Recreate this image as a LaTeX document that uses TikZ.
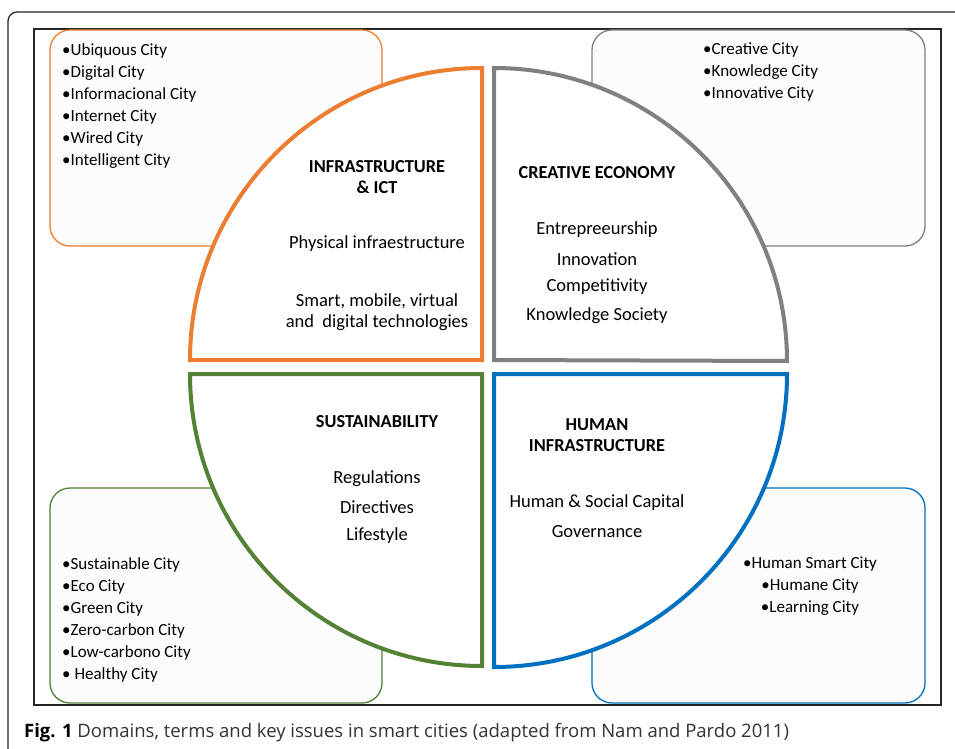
\documentclass[tikz,border=0pt]{standalone}
\usepackage{fontspec}
\setmainfont{Carlito}
\newfontfamily\capfont{Open Sans}
\definecolor{corange}{HTML}{ED7D31}
\definecolor{cgray}{HTML}{808080}
\definecolor{cgreen}{HTML}{548235}
\definecolor{cblue}{HTML}{0070C0}
\definecolor{boxfill}{HTML}{FCFCFC}
\begin{document}
\begin{tikzpicture}[x=1pt,y=-1pt,
  listbox/.style={line width=1.3pt,rounded corners=20pt,fill=boxfill},
  quad/.style={line width=4pt,fill=white,line join=miter},
  listtxt/.style={font=\fontsize{17}{22}\selectfont,align=left,inner sep=0pt},
  clisttxt/.style={font=\fontsize{17}{22}\selectfont,align=center,inner sep=0pt},
  head/.style={font=\fontsize{18.3}{20.5}\selectfont\bfseries,align=center,inner sep=0pt},
  body/.style={font=\fontsize{18.5}{21}\selectfont,align=center,inner sep=0pt}]
\useasboundingbox (0,0) rectangle (955,749);
\fill[white] (0,0) rectangle (955,749);
% frames
\draw[line width=1.3pt,black!85,rounded corners=9pt] (8,12) rectangle (975,770);
\draw[line width=1.3pt,black!85] (34,29) rectangle (941,705);
% list boxes
\draw[listbox,draw=corange] (50,30) rectangle (382,246);
\draw[listbox,draw=cgray] (592,30) rectangle (925,246);
\draw[listbox,draw=cgreen] (50,488) rectangle (382,703);
\draw[listbox,draw=cblue] (592,488) rectangle (925,703);
% quadrants
\draw[quad,draw=corange] (482,360) -- (190,360) arc[start angle=180,end angle=270,radius=292] -- cycle;
\draw[quad,draw=cgray] (494,360) -- (494,68) arc[start angle=270,end angle=360,radius=293] -- cycle;
\draw[quad,draw=cgreen] (482,374) -- (190,374) arc[start angle=180,end angle=90,radius=292] -- cycle;
\draw[quad,draw=cblue] (494,374) -- (787,374) arc[start angle=0,end angle=90,radius=293] -- cycle;
% lists
\node[listtxt,anchor=north west] (l1) at (62,43) {•Ubiquous City\\•Digital City\\•Informacional City\\•Internet City\\•Wired City\\•Intelligent City};
\node[listtxt,anchor=north west] (l2) at (703,43) {•Creative City\\•Knowledge City\\•Innovative City};
\node[listtxt,anchor=north west] (l3) at (62,557) {•Sustainable City\\•Eco City\\•Green City\\•Zero-carbon City\\•Low-carbono City\\• Healthy City};
\node[clisttxt,anchor=north] (l4) at (810,557) {•Human Smart City\\•Humane City\\•Learning City};
% quadrant texts
\node[head] (h1) at (377,177) {INFRASTRUCTURE\\\& ICT};
\node[body] (b1a) at (377,244) {Physical infraestructure};
\node[body] (b1b) at (377,312) {Smart, mobile, virtual\\and\ \ digital technologies};
\node[head] (h2) at (597,173) {CREATIVE ECONOMY};
\node[body] (b2a) at (597,230) {Entrepreeurship};
\node[body] (b2b) at (597,259) {Innovation};
\node[body] (b2c) at (597,287) {Competitivity};
\node[body] (b2d) at (597,316) {Knowledge Society};
\node[head] (h3) at (377,422) {SUSTAINABILITY};
\node[body] (b3a) at (377,479) {Regulations};
\node[body] (b3b) at (377,507) {Directives};
\node[body] (b3c) at (377,536) {Lifestyle};
\node[head] (h4) at (597,435) {HUMAN\\INFRASTRUCTURE};
\node[body] (b4a) at (597,503) {Human \& Social Capital};
\node[body] (b4b) at (597,532) {Governance};
% caption
\node[anchor=west,inner sep=0pt,font=\capfont\fontsize{18.5}{20}\selectfont] (cap) at (24,733) {\textbf{Fig. 1}\ \textcolor{black!80}{Domains, terms and key issues in smart cities (adapted from Nam and Pardo 2011)}};
\end{tikzpicture}
\end{document}
